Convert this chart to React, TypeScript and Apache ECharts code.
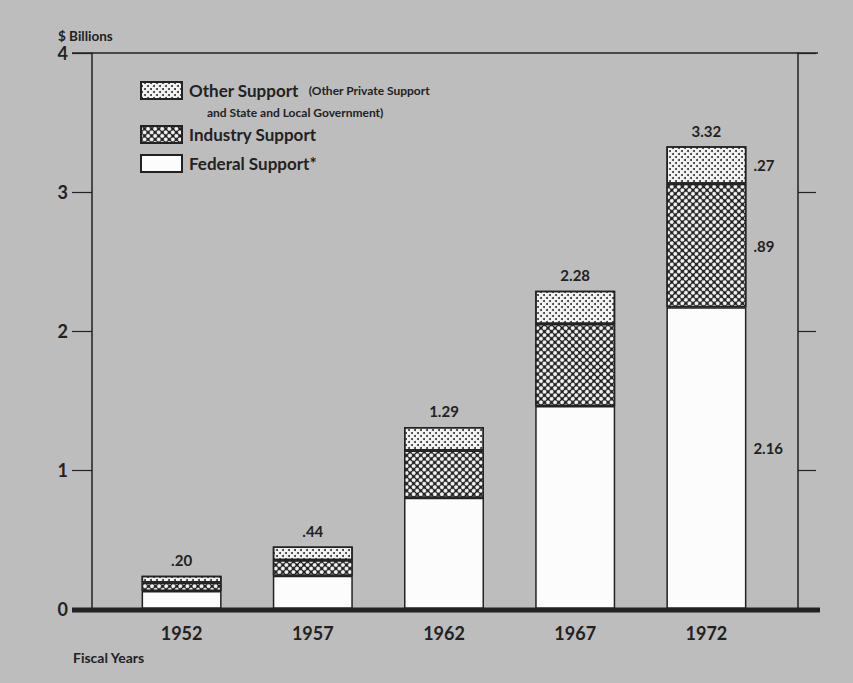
import React, { useEffect, useRef } from "react";
import * as echarts from "echarts";

const years = ["1952", "1957", "1962", "1967", "1972"];
const federal = [0.13, 0.24, 0.8, 1.46, 2.17];
const industry = [0.06, 0.11, 0.34, 0.59, 0.89];
const other = [0.05, 0.1, 0.17, 0.24, 0.27];
const totalLabels = [".20", ".44", "1.29", "2.28", "3.32"];
const federalLabels = ["", "", "", "", "2.16"];
const industryLabels = ["", "", "", "", ".89"];
const otherLabels = ["", "", "", "", ".27"];
const yTicks = [0, 1, 2, 3, 4];

const FONT = "Lato, 'DejaVu Sans', sans-serif";
const INK = "#222";

export default function App() {
  const ref = useRef<HTMLDivElement>(null);
  useEffect(() => {
    document.body.style.margin = "0";
    const chart = echarts.init(ref.current!, null, { renderer: "svg" });
    const border = { borderColor: INK, borderWidth: 1.5 };
    const segLabel = (arr: string[], extra: any = {}) => ({
      show: true,
      position: "right",
      distance: 7,
      color: INK,
      fontFamily: FONT,
      fontWeight: "bold",
      fontSize: 15,
      formatter: (p: any) => arr[p.dataIndex],
      ...extra,
    });
    const legendBase = {
      orient: "vertical",
      padding: 0,
      itemWidth: 41,
      itemHeight: 17,
      itemGap: 0,
      selectedMode: false,
      icon: "rect",
      textStyle: {
        color: INK,
        fontFamily: FONT,
        fontWeight: "bold",
        fontSize: 17,
        lineHeight: 17,
        padding: [0, 0, 0, 2],
        rich: {
          a: { color: INK, fontFamily: FONT, fontWeight: "bold", fontSize: 17, lineHeight: 17 },
          b: { color: INK, fontFamily: FONT, fontWeight: "bold", fontSize: 12, lineHeight: 17, padding: [0, 0, 0, 10] },
        },
      },
    };
    chart.setOption({
      animation: false,
      backgroundColor: "#bdbdbd",
      textStyle: { fontFamily: FONT },
      grid: { left: 116, right: 81, top: 53, bottom: 74 },
      legend: [
        {
          ...legendBase,
          left: 140,
          top: 81,
          data: ["Other Support"],
          formatter: () => "{a|Other Support}{b|(Other Private Support}",
        },
        { ...legendBase, left: 140, top: 125, data: ["Industry Support"] },
        { ...legendBase, left: 140, top: 154, data: ["Federal Support*"] },
      ],
      xAxis: {
        type: "category",
        data: years,
        axisLine: { show: false },
        axisTick: { show: false },
        axisLabel: {
          margin: 15,
          color: INK,
          fontFamily: FONT,
          fontWeight: "bold",
          fontSize: 18,
        },
      },
      yAxis: [
        {
          type: "value",
          position: "left",
          offset: 24,
          min: yTicks[0],
          max: yTicks[yTicks.length - 1],
          interval: 1,
          splitLine: { show: false },
          axisLine: { show: true, lineStyle: { color: INK, width: 1.5 } },
          axisTick: { show: true, length: 20, lineStyle: { color: INK, width: 1.2 } },
          axisLabel: {
            margin: 24,
            color: INK,
            fontFamily: FONT,
            fontWeight: "bold",
            fontSize: 18,
          },
        },
        {
          type: "value",
          position: "right",
          offset: 26,
          min: yTicks[0],
          max: yTicks[yTicks.length - 1],
          interval: 1,
          splitLine: { show: false },
          axisLine: { show: true, lineStyle: { color: INK, width: 1.5 } },
          axisTick: { show: true, length: 18, lineStyle: { color: INK, width: 1.2 } },
          axisLabel: { show: false },
        },
      ],
      series: [
        {
          name: "Federal Support*",
          type: "bar",
          stack: "s",
          barWidth: 80,
          data: federal,
          itemStyle: { color: "#fcfcfc", ...border },
          label: segLabel(federalLabels, { offset: [0, -10] }),
        },
        {
          name: "Industry Support",
          type: "bar",
          stack: "s",
          barWidth: 80,
          data: industry,
          itemStyle: {
            color: "#1a1a1a",
            ...border,
            decal: {
              symbol: "circle",
              symbolSize: 1,
              color: "#f8f8f8",
              dashArrayX: [3.2, 1.0],
              dashArrayY: [3.2, 1.0],
              rotation: Math.PI / 4,
            },
          },
          label: segLabel(industryLabels),
        },
        {
          name: "Other Support",
          type: "bar",
          stack: "s",
          barWidth: 80,
          data: other,
          itemStyle: {
            color: "#f4f4f4",
            ...border,
            decal: {
              symbol: "circle",
              symbolSize: 1,
              color: "#333",
              dashArrayX: [
                [1.2, 3.2],
                [0, 2.2, 1.2, 1],
              ],
              dashArrayY: [1.2, 0.9],
            },
          },
          label: segLabel(otherLabels),
        },
        {
          name: "Total",
          type: "bar",
          stack: "s",
          barWidth: 80,
          data: years.map(() => 0),
          itemStyle: { color: "rgba(0,0,0,0)", borderWidth: 0 },
          label: {
            show: true,
            position: "top",
            distance: 8,
            color: INK,
            fontFamily: FONT,
            fontWeight: "bold",
            fontSize: 15,
            formatter: (p: any) => totalLabels[p.dataIndex],
          },
        },
      ],
      graphic: [
        {
          type: "line",
          shape: { x1: 72, y1: 53, x2: 818, y2: 53 },
          style: { stroke: INK, lineWidth: 1.5 },
          z: 10,
        },
        {
          type: "line",
          shape: { x1: 72, y1: 610, x2: 820, y2: 610 },
          style: { stroke: INK, lineWidth: 5 },
          z: 10,
        },
        {
          type: "text",
          left: 58,
          top: 29,
          style: { text: "$ Billions", fill: INK, font: `bold 13.5px ${FONT}` },
        },
        {
          type: "text",
          left: 73,
          top: 650,
          style: { text: "Fiscal Years", fill: INK, font: `bold 14px ${FONT}` },
        },
        {
          type: "text",
          left: 207,
          top: 106,
          style: { text: "and State and Local Government)", fill: INK, font: `bold 12px ${FONT}` },
        },
      ],
    });
    return () => chart.dispose();
  }, []);
  return <div ref={ref} style={{ width: 853, height: 683 }} />;
}
